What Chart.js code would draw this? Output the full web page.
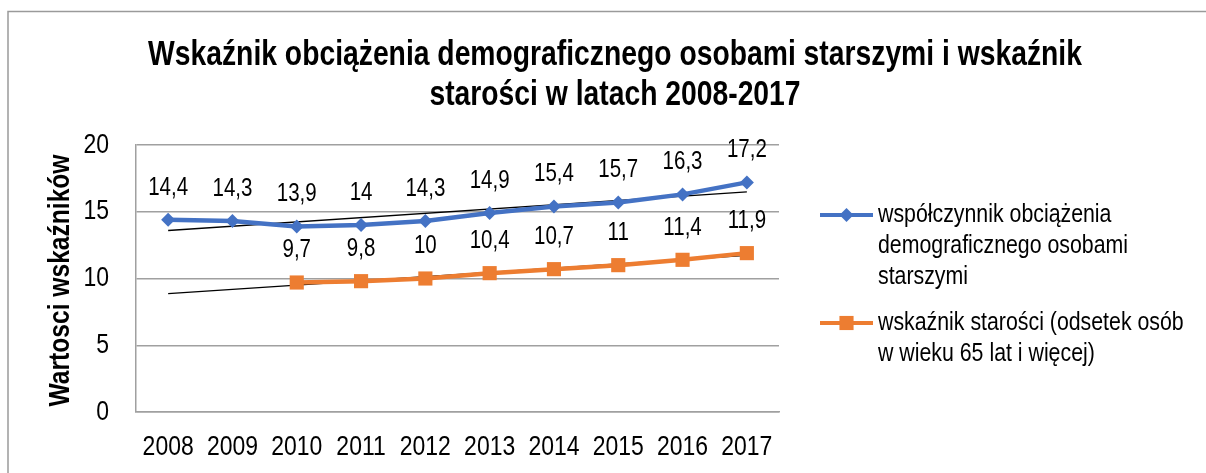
<!DOCTYPE html>
<html><head><meta charset="utf-8">
<script src="https://cdn.jsdelivr.net/npm/chart.js@4.4.0/dist/chart.umd.min.js"></script>
<style>html,body{margin:0;padding:0;background:#fff;}#wrap{position:relative;width:1206px;height:473px;}</style>
</head><body><div id="wrap"><canvas id="c" width="1206" height="473"></canvas></div>
<script>
const years = ['2008','2009','2010','2011','2012','2013','2014','2015','2016','2017'];
const dependencyRatio = [14.4,14.3,13.9,14.0,14.3,14.9,15.4,15.7,16.3,17.2];
const oldAgeShare = [null,null,9.7,9.8,10.0,10.4,10.7,11.0,11.4,11.9];
const yTicks = [0,5,10,15,20];
const titleLines = ['Wskaźnik obciążenia demograficznego osobami starszymi i wskaźnik','starości w latach 2008-2017'];
const yAxisTitle = 'Wartosci wskaźników';
const legendBlue = ['współczynnik obciążenia','demograficznego osobami','starszymi'];
const legendOrange = ['wskaźnik starości (odsetek osób','w wieku 65 lat i więcej)'];

const BLUE = '#4472C4', ORANGE = '#ED7D31';
const FF = "'Liberation Sans',Arial,sans-serif";
const NARROW = 0.82;

function trend(vals){
  const pts = []; vals.forEach((v,i)=>{ if(v!==null) pts.push([i,v]); });
  const n = pts.length, mx = pts.reduce((s,p)=>s+p[0],0)/n, my = pts.reduce((s,p)=>s+p[1],0)/n;
  let sxy=0,sxx=0; pts.forEach(p=>{sxy+=(p[0]-mx)*(p[1]-my); sxx+=(p[0]-mx)*(p[0]-mx);});
  const b = sxy/sxx, a = my-b*mx;
  const out = vals.map(()=>null); out[0]=a; out[vals.length-1]=a+b*(vals.length-1);
  return out;
}
const fmt = v => String(v).replace('.',',');

function narrowText(ctx, text, x, y, font, align, rot){
  ctx.save();
  ctx.translate(x, y);
  if (rot) ctx.rotate(rot);
  ctx.scale(NARROW, 1);
  ctx.font = font; ctx.textAlign = align || 'center'; ctx.textBaseline = 'middle';
  ctx.fillStyle = '#000';
  ctx.fillText(text, 0, 0);
  ctx.restore();
}

const extras = {
  id:'extras',
  beforeDraw(chart){
    const ctx = chart.ctx; ctx.save();
    ctx.strokeStyle = '#9a9a9a'; ctx.lineWidth = 1.5;
    ctx.strokeRect(8, 11.5, 1300, 600);
    ctx.restore();
  },
  afterDatasetsDraw(chart){
    const ctx = chart.ctx;
    [0,1].forEach(di=>{
      const meta = chart.getDatasetMeta(di);
      const d = chart.data.datasets[di].data;
      meta.data.forEach((el,i)=>{ if(d[i]===null) return; narrowText(ctx, fmt(d[i]), el.x, el.y-32, '25px '+FF, 'center'); });
    });
  },
  afterDraw(chart){
    const ctx = chart.ctx;
    const xs = chart.scales.x, ys = chart.scales.y, ca = chart.chartArea;
    years.forEach((y,i)=>narrowText(ctx, y, xs.getPixelForValue(i), 447, '28px '+FF, 'center'));
    yTicks.forEach(v=>narrowText(ctx, String(v), 109, ys.getPixelForValue(v), '28px '+FF, 'right'));
    narrowText(ctx, yAxisTitle, 61, (ca.top+ca.bottom)/2 + 2, 'bold 30px '+FF, 'center', -Math.PI/2);
    titleLines.forEach((t,i)=>narrowText(ctx, t, 615, 55+i*40, 'bold 34.5px '+FF, 'center'));
    const items = [{c:BLUE, s:'rectRot', r:7, lines:legendBlue, y:215},{c:ORANGE, s:'rect', r:10, lines:legendOrange, y:323}];
    items.forEach(it=>{
      ctx.save();
      ctx.strokeStyle = it.c; ctx.lineWidth = 4;
      ctx.beginPath(); ctx.moveTo(820, it.y); ctx.lineTo(873, it.y); ctx.stroke();
      ctx.fillStyle = it.c;
      Chart.helpers.drawPoint(ctx, {pointStyle: it.s, radius: it.r, borderWidth: 0}, 846.5, it.y);
      ctx.restore();
      it.lines.forEach((l,i)=>narrowText(ctx, l, 878, it.y + i*31, '26px '+FF, 'left'));
    });
  }
};

new Chart(document.getElementById('c'), {
  type:'line',
  data:{ labels: years, datasets:[
    {label: legendBlue.join(' '), data: dependencyRatio, borderColor: BLUE, backgroundColor: BLUE, borderWidth: 4.5, pointStyle:'rectRot', pointRadius:7, pointHoverRadius:7, pointBorderWidth:0, tension:0},
    {label: legendOrange.join(' '), data: oldAgeShare, borderColor: ORANGE, backgroundColor: ORANGE, borderWidth: 4.5, pointStyle:'rect', pointRadius:10, pointHoverRadius:10, pointBorderWidth:0, tension:0},
    {label:'trend1', data: trend(dependencyRatio), borderColor:'#000', borderWidth:1.3, pointRadius:0, spanGaps:true},
    {label:'trend2', data: trend(oldAgeShare), borderColor:'#000', borderWidth:1.3, pointRadius:0, spanGaps:true}
  ]},
  options:{
    responsive:false, animation:false, devicePixelRatio:1,
    layout:{padding:{left:0, top:145, right:427, bottom:0}},
    plugins:{legend:{display:false}, title:{display:false}, tooltip:{enabled:false}},
    scales:{
      x:{ offset:true, grid:{display:false, drawTicks:false, tickLength:0}, border:{display:true, color:'#a0a0a0', width:1.5},
          ticks:{display:false, autoSkip:false},
          afterFit(s){ s.height = 61; } },
      y:{ min:0, max:20, afterBuildTicks(s){ s.ticks = yTicks.map(v=>({value:v})); },
          grid:{color:'#a0a0a0', lineWidth:1.5, drawTicks:false, tickLength:0}, border:{display:true, color:'#a0a0a0', width:1.5},
          ticks:{display:false},
          afterFit(s){ s.width = 136; } }
    }
  },
  plugins:[extras]
});
</script></body></html>
